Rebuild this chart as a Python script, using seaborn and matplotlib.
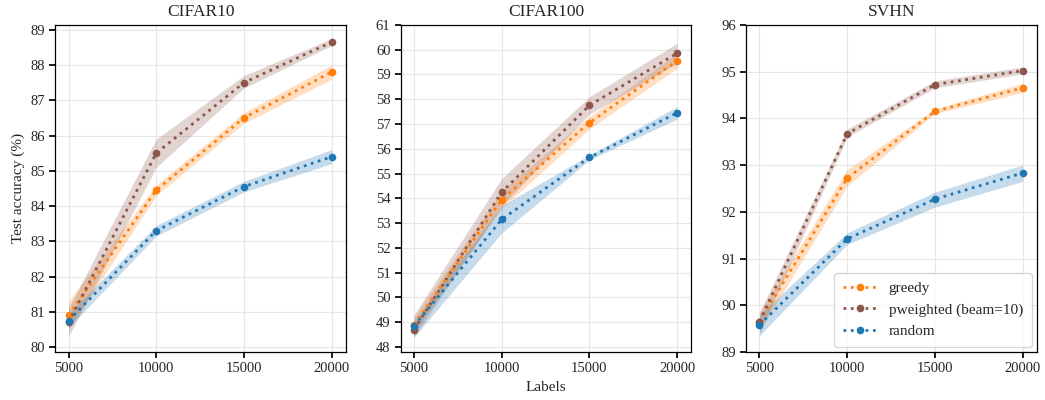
import matplotlib
matplotlib.use("Agg")
import matplotlib.pyplot as plt
import seaborn as sns
import numpy as np

labels = [5000, 10000, 15000, 20000]
datasets = ["CIFAR10", "CIFAR100", "SVHN"]
methods = ["greedy", "pweighted (beam=10)", "random"]
colors = {"greedy": "#ff7f0e", "pweighted (beam=10)": "#8c564b", "random": "#1f77b4"}

# CIFAR10
c10_greedy = [80.9, 84.45, 86.5, 87.8]
c10_greedy_lo = [80.5, 84.3, 86.35, 87.6]
c10_greedy_hi = [81.3, 84.6, 86.65, 88.0]
c10_pw = [80.7, 85.5, 87.5, 88.65]
c10_pw_lo = [80.3, 85.1, 87.35, 88.55]
c10_pw_hi = [81.1, 85.9, 87.7, 88.75]
c10_rand = [80.75, 83.3, 84.55, 85.4]
c10_rand_lo = [80.55, 83.15, 84.4, 85.2]
c10_rand_hi = [80.95, 83.45, 84.7, 85.6]

# CIFAR100
c100_greedy = [48.9, 53.95, 57.05, 59.55]
c100_greedy_lo = [48.6, 53.6, 56.8, 59.25]
c100_greedy_hi = [49.2, 54.3, 57.3, 59.85]
c100_pw = [48.7, 54.25, 57.75, 59.85]
c100_pw_lo = [48.4, 53.7, 57.4, 59.45]
c100_pw_hi = [49.3, 54.8, 58.1, 60.25]
c100_rand = [48.85, 53.15, 55.65, 57.45]
c100_rand_lo = [48.4, 52.6, 55.55, 57.2]
c100_rand_hi = [49.05, 53.7, 55.75, 57.7]

# SVHN
svhn_greedy = [89.65, 92.72, 94.15, 94.65]
svhn_greedy_lo = [89.45, 92.55, 94.1, 94.55]
svhn_greedy_hi = [89.85, 92.9, 94.2, 94.75]
svhn_pw = [89.65, 93.67, 94.72, 95.02]
svhn_pw_lo = [89.4, 93.6, 94.65, 94.95]
svhn_pw_hi = [89.85, 93.77, 94.8, 95.1]
svhn_rand = [89.58, 91.42, 92.27, 92.83]
svhn_rand_lo = [89.35, 91.3, 92.1, 92.65]
svhn_rand_hi = [89.8, 91.55, 92.42, 93.0]

data = {
    "CIFAR10": {
        "greedy": (c10_greedy, c10_greedy_lo, c10_greedy_hi),
        "pweighted (beam=10)": (c10_pw, c10_pw_lo, c10_pw_hi),
        "random": (c10_rand, c10_rand_lo, c10_rand_hi),
    },
    "CIFAR100": {
        "greedy": (c100_greedy, c100_greedy_lo, c100_greedy_hi),
        "pweighted (beam=10)": (c100_pw, c100_pw_lo, c100_pw_hi),
        "random": (c100_rand, c100_rand_lo, c100_rand_hi),
    },
    "SVHN": {
        "greedy": (svhn_greedy, svhn_greedy_lo, svhn_greedy_hi),
        "pweighted (beam=10)": (svhn_pw, svhn_pw_lo, svhn_pw_hi),
        "random": (svhn_rand, svhn_rand_lo, svhn_rand_hi),
    },
}
ylims = {"CIFAR10": (79.86, 89.14), "CIFAR100": (47.8, 61.0), "SVHN": (89.0, 96.0)}
yticks = {"CIFAR10": range(80, 90), "CIFAR100": range(48, 62), "SVHN": range(89, 97)}

sns.set_theme(style="ticks")
plt.rcParams["font.family"] = ["Liberation Serif", "DejaVu Serif"]

fig, axes = plt.subplots(1, 3, figsize=(10.45, 4.0), dpi=100)
fig.subplots_adjust(left=0.053, right=0.992, top=0.938, bottom=0.12, wspace=0.19)

for ax, ds in zip(axes, datasets):
    for m in methods:
        mean, lo, hi = data[ds][m]
        ax.fill_between(labels, lo, hi, color=colors[m], alpha=0.25, linewidth=0)
        sns.lineplot(x=labels, y=mean, ax=ax, color=colors[m], linestyle=":",
                     marker="o", markersize=5.5, markeredgewidth=0, linewidth=2.0,
                     label=m, legend=False)
    ax.set_title(ds, fontsize=12.5)
    ax.set_xlim(4250, 20800)
    ax.set_ylim(*ylims[ds])
    ax.set_xticks(labels)
    ax.set_yticks(list(yticks[ds]))
    ax.grid(True, color="#e6e6e6", linewidth=0.8)
    ax.tick_params(labelsize=10.5, length=4, color="black")
    for s in ax.spines.values():
        s.set_color("black")
        s.set_linewidth(0.9)

axes[0].set_ylabel("Test accuracy (%)", fontsize=11)
axes[1].set_xlabel("Labels", fontsize=11)
axes[2].legend(loc="lower right", fontsize=11, frameon=True, framealpha=0.8,
               handlelength=2.2, borderpad=0.6, borderaxespad=0.3)

fig.savefig("out.png", dpi=100)
